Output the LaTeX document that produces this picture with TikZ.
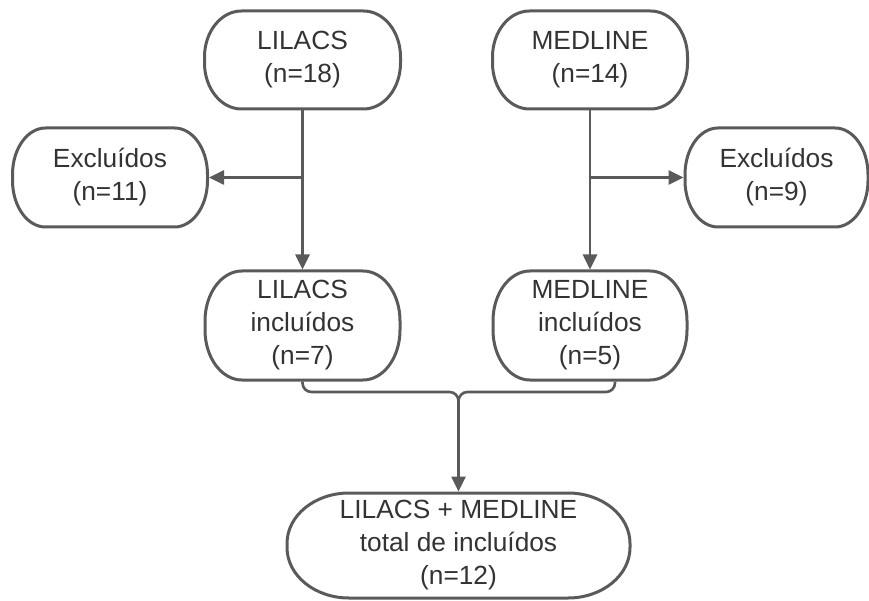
\documentclass[tikz,border=0pt]{standalone}
\usepackage{fontspec}
\setmainfont{Liberation Sans}
\usetikzlibrary{arrows.meta,calc}
\definecolor{linegray}{HTML}{5A5A5A}
\definecolor{textgray}{HTML}{333333}
\tikzset{
  box/.style={align=center, text=textgray, font=\fontsize{26.3}{33}\selectfont,
    inner sep=0pt, outer sep=1.5pt},
  pillline/.style={draw=linegray, line width=3pt},
  conn/.style={draw=linegray, line width=2.6pt},
  arr/.style={conn, -{Triangle[length=15pt,width=14pt]}},
}
% #1 node name, #2 x radius, #3 y radius (pt)
\newcommand\drawpill[3]{%
  \draw[pillline]
    ($(#1.north west)+(#2pt,-1.5pt)+(1.5pt,0pt)$) --
    ($(#1.north east)+(-#2pt,-1.5pt)+(-1.5pt,0pt)$)
    arc[start angle=90,end angle=0,x radius=#2pt,y radius=#3pt] --
    ($(#1.south east)+(-1.5pt,#3pt)+(0pt,1.5pt)$)
    arc[start angle=0,end angle=-90,x radius=#2pt,y radius=#3pt] --
    ($(#1.south west)+(#2pt,1.5pt)+(1.5pt,0pt)$)
    arc[start angle=-90,end angle=-180,x radius=#2pt,y radius=#3pt] --
    ($(#1.north west)+(1.5pt,-#3pt)+(0pt,-1.5pt)$)
    arc[start angle=180,end angle=90,x radius=#2pt,y radius=#3pt] -- cycle;}
\begin{document}
\begin{tikzpicture}[x=1pt,y=-1pt]
\useasboundingbox (0,0) rectangle (869,601);
\node[box, minimum width=196pt, minimum height=98pt] (L) at (302.5,60) {LILACS\\(n=18)};
\node[box, minimum width=195pt, minimum height=98pt] (M) at (590,60) {MEDLINE\\(n=14)};
\node[box, minimum width=195pt, minimum height=99pt] (EL) at (110,177.5) {Excluídos\\(n=11)};
\node[box, minimum width=183pt, minimum height=99pt] (EM) at (776.5,177.5) {Excluídos\\(n=9)};
\node[box, minimum width=195pt, minimum height=109pt] (LI) at (302.5,325.5) {LILACS\\incluídos\\(n=7)};
\node[box, minimum width=194pt, minimum height=109pt] (MI) at (590,325.5) {MEDLINE\\incluídos\\(n=5)};
\node[box, minimum width=343pt, minimum height=105pt] (T) at (458.5,545.5) {LILACS + MEDLINE\\total de incluídos\\(n=12)};
\drawpill{L}{37}{46}
\drawpill{M}{37}{46}
\drawpill{EL}{33}{46.5}
\drawpill{EM}{33}{46.5}
\drawpill{LI}{37}{50}
\drawpill{MI}{37}{50}
\drawpill{T}{62}{50.5}
\draw[arr] (L.south) -- (LI.north);
\draw[arr] (M.south) -- (MI.north);
\draw[arr] (L.south |- EL.east) -- (EL.east);
\draw[arr] (M.south |- EM.east) -- (EM.west);
\coordinate (J) at (458.5,392);
\draw[conn, rounded corners=9pt] (LI.south) |- (J) -- ($(J)+(0,25)$);
\draw[conn, rounded corners=9pt] ([xshift=25pt]MI.south) |- (J) -- ($(J)+(0,25)$);
\draw[arr] ($(J)+(0,20)$) -- (T.north);
\end{tikzpicture}
\end{document}
